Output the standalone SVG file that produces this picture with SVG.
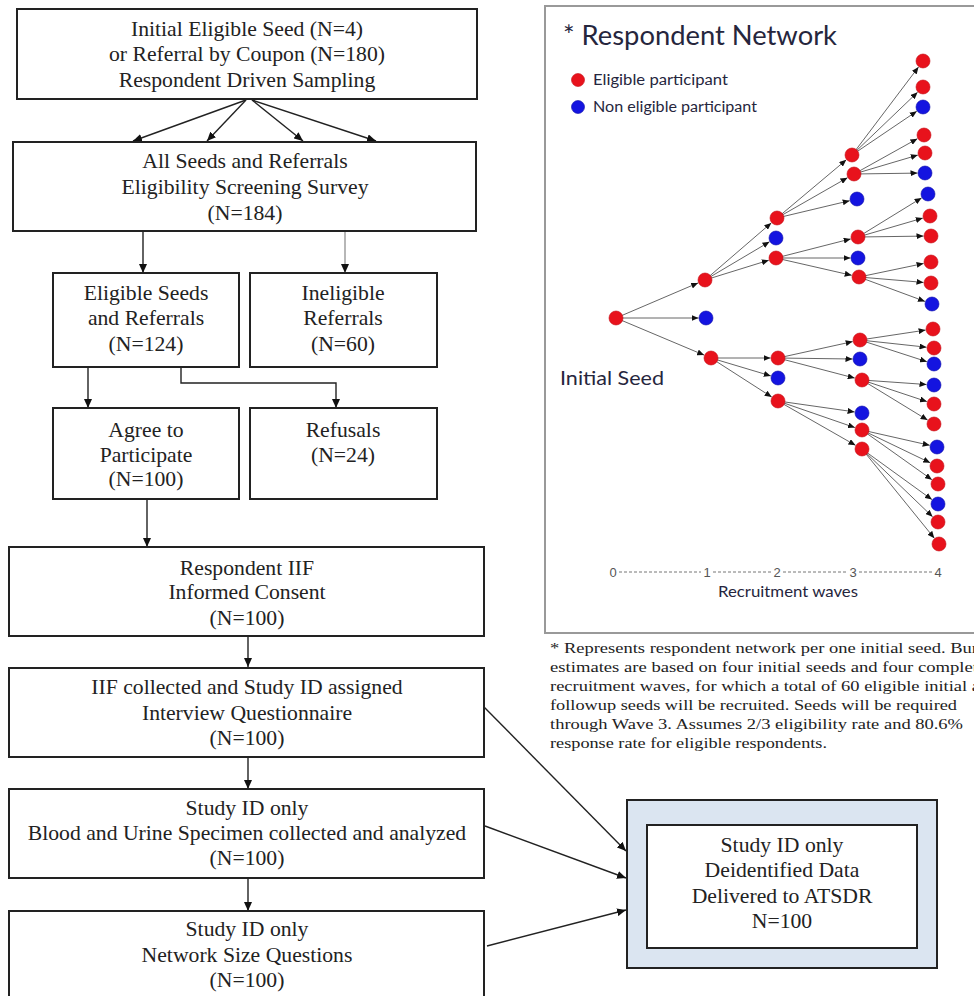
<svg xmlns="http://www.w3.org/2000/svg" width="974" height="996" viewBox="0 0 974 996">
<defs>
<marker id="ah" markerUnits="userSpaceOnUse" markerWidth="10" markerHeight="8" refX="9" refY="4" orient="auto"><path d="M0,0 L9,4 L0,8 z" fill="#111"/></marker>
<marker id="nh" markerUnits="userSpaceOnUse" markerWidth="8" markerHeight="6" refX="7" refY="3" orient="auto"><path d="M0,0 L7,3 L0,6 z" fill="#111"/></marker>
<style>
.box{fill:#fff;stroke:#222;stroke-width:2}
.t{font-family:"Liberation Serif","Times New Roman",serif;font-size:21.7px;fill:#222;text-anchor:middle}
.fn{font-family:"Liberation Serif","Times New Roman",serif;font-size:15px;fill:#222}
.c{fill:none;stroke:#222;stroke-width:1.4}
.e{fill:none;stroke:#555;stroke-width:0.9;marker-end:url(#nh)}
.r{fill:#e8121c;stroke:#c40a12;stroke-width:0.6}
.b{fill:#1414e0;stroke:#0a0aa8;stroke-width:0.6}
.s{font-family:"Lato","Liberation Sans",sans-serif;fill:#26263d}
.ax{font-family:"Liberation Sans",sans-serif;font-size:13px;fill:#555;text-anchor:middle}
</style>
</defs>
<rect width="974" height="996" fill="#fff"/>

<g id="connectors">
<line class="c" x1="246" y1="100" x2="133" y2="141" marker-end="url(#ah)"/>
<line class="c" x1="246" y1="100" x2="207" y2="141" marker-end="url(#ah)"/>
<line class="c" x1="252" y1="100" x2="303" y2="141" marker-end="url(#ah)"/>
<line class="c" x1="252" y1="100" x2="376" y2="141" marker-end="url(#ah)"/>
<line class="c" x1="143" y1="231" x2="143" y2="273" marker-end="url(#ah)"/>
<line class="c" x1="345" y1="231" x2="345" y2="273" style="stroke:#999" marker-end="url(#ah)"/>
<line class="c" x1="88" y1="367" x2="88" y2="408" marker-end="url(#ah)"/>
<polyline class="c" points="181,367 181,383 336,383 336,408" marker-end="url(#ah)"/>
<line class="c" x1="147" y1="499" x2="147" y2="547" marker-end="url(#ah)"/>
<line class="c" x1="248" y1="636" x2="248" y2="667" marker-end="url(#ah)"/>
<line class="c" x1="248" y1="757" x2="248" y2="789" marker-end="url(#ah)"/>
<line class="c" x1="248" y1="878" x2="248" y2="911" marker-end="url(#ah)"/>
<line class="c" x1="484" y1="707" x2="626" y2="851" marker-end="url(#ah)"/>
<line class="c" x1="485" y1="826" x2="626" y2="878" marker-end="url(#ah)"/>
<line class="c" x1="487" y1="946" x2="626" y2="910" marker-end="url(#ah)"/>
</g>

<g id="n1"><rect class="box" x="17" y="9" width="460" height="90"/>
<text class="t" x="247" y="36">Initial Eligible Seed (N=4)</text>
<text class="t" x="247" y="61">or Referral by Coupon (N=180)</text>
<text class="t" x="247" y="87">Respondent Driven Sampling</text></g>

<g id="n2"><rect class="box" x="13" y="142" width="463" height="89"/>
<text class="t" x="245" y="168">All Seeds and Referrals</text>
<text class="t" x="245" y="194">Eligibility Screening Survey</text>
<text class="t" x="245" y="220">(N=184)</text></g>

<g id="n3"><rect class="box" x="53" y="273" width="186" height="94"/>
<text class="t" x="146" y="300">Eligible Seeds</text>
<text class="t" x="146" y="325">and Referrals</text>
<text class="t" x="146" y="351">(N=124)</text></g>

<g id="n4"><rect class="box" x="250" y="273" width="187" height="94"/>
<text class="t" x="343" y="300">Ineligible</text>
<text class="t" x="343" y="325">Referrals</text>
<text class="t" x="343" y="351">(N=60)</text></g>

<g id="n5"><rect class="box" x="53" y="408" width="186" height="91"/>
<text class="t" x="146" y="437">Agree to</text>
<text class="t" x="146" y="462">Participate</text>
<text class="t" x="146" y="486">(N=100)</text></g>

<g id="n6"><rect class="box" x="250" y="408" width="187" height="91"/>
<text class="t" x="343" y="437">Refusals</text>
<text class="t" x="343" y="462">(N=24)</text></g>

<g id="n7"><rect class="box" x="9" y="547" width="475" height="89"/>
<text class="t" x="247" y="575">Respondent IIF</text>
<text class="t" x="247" y="599">Informed Consent</text>
<text class="t" x="247" y="625">(N=100)</text></g>

<g id="n8"><rect class="box" x="9" y="668" width="475" height="89"/>
<text class="t" x="247" y="694">IIF collected and Study ID assigned</text>
<text class="t" x="247" y="720">Interview Questionnaire</text>
<text class="t" x="247" y="745">(N=100)</text></g>

<g id="n9"><rect class="box" x="9" y="789" width="475" height="89"/>
<text class="t" x="247" y="815">Study ID only</text>
<text class="t" x="247" y="840">Blood and Urine Specimen collected and analyzed</text>
<text class="t" x="247" y="865">(N=100)</text></g>

<g id="n10"><rect class="box" x="9" y="911" width="475" height="95"/>
<text class="t" x="247" y="936">Study ID only</text>
<text class="t" x="247" y="962">Network Size Questions</text>
<text class="t" x="247" y="987">(N=100)</text></g>

<g id="n11"><rect x="627" y="800" width="310" height="168" fill="#dbe5f1" stroke="#222" stroke-width="2"/>
<rect class="box" x="647" y="825" width="270" height="123" stroke-width="1.6"/>
<text class="t" x="782" y="852">Study ID only</text>
<text class="t" x="782" y="877">Deidentified Data</text>
<text class="t" x="782" y="903">Delivered to ATSDR</text>
<text class="t" x="782" y="928">N=100</text></g>

<g id="network">
<rect x="545" y="6" width="440" height="627" fill="#fff" stroke="#999" stroke-width="2"/>
<text class="s" x="563" y="45" font-size="26" textLength="274" lengthAdjust="spacingAndGlyphs">* Respondent Network</text>
<circle class="r" cx="578" cy="80" r="6.5"/>
<text class="s" x="593" y="85" font-size="15.5" textLength="135" lengthAdjust="spacingAndGlyphs">Eligible participant</text>
<circle class="b" cx="578" cy="107" r="6.5"/>
<text class="s" x="593" y="112" font-size="15.5" textLength="164" lengthAdjust="spacingAndGlyphs">Non eligible participant</text>
<text class="s" x="560" y="385" font-size="19" textLength="104" lengthAdjust="spacingAndGlyphs">Initial Seed</text>

<g id="net-edges">
<path class="e" d="M616,318 L698.1,282.9"/>
<path class="e" d="M616,318 L698.5,318"/>
<path class="e" d="M616,318 L704.1,355.1"/>
<path class="e" d="M705,280 L771.3,222.9"/>
<path class="e" d="M705,280 L769.5,241.8"/>
<path class="e" d="M705,280 L768.8,260.2"/>
<path class="e" d="M711,358 L770.5,358"/>
<path class="e" d="M711,358 L770.8,375.9"/>
<path class="e" d="M711,358 L771.7,397"/>
<path class="e" d="M777,218 L846.3,159.8"/>
<path class="e" d="M777,218 L847.5,177.7"/>
<path class="e" d="M777,218 L849.7,200.7"/>
<path class="e" d="M776,258 L850.7,238.9"/>
<path class="e" d="M776,258 L850.5,258"/>
<path class="e" d="M776,258 L851.7,275.3"/>
<path class="e" d="M778,358 L852.7,341.6"/>
<path class="e" d="M778,358 L852.5,359"/>
<path class="e" d="M778,358 L854.7,378.1"/>
<path class="e" d="M778,401 L854.6,411.9"/>
<path class="e" d="M778,401 L854.9,427.6"/>
<path class="e" d="M778,401 L855.5,445.3"/>
<path class="e" d="M852,155 L918.5,67"/>
<path class="e" d="M852,155 L917.6,92.2"/>
<path class="e" d="M852,155 L916.8,111.2"/>
<path class="e" d="M854,174 L917.4,138.7"/>
<path class="e" d="M854,174 L917.8,155.1"/>
<path class="e" d="M854,174 L917.5,173.1"/>
<path class="e" d="M858,237 L921.6,197.9"/>
<path class="e" d="M858,237 L922.8,218.1"/>
<path class="e" d="M858,237 L923.5,236.1"/>
<path class="e" d="M859,277 L923.6,263.5"/>
<path class="e" d="M859,277 L923.5,282.4"/>
<path class="e" d="M859,277 L925,301.4"/>
<path class="e" d="M860,340 L925.6,330.1"/>
<path class="e" d="M860,340 L926.5,347.2"/>
<path class="e" d="M860,340 L926.9,361.7"/>
<path class="e" d="M862,380 L926.5,384.5"/>
<path class="e" d="M862,380 L926.9,401.6"/>
<path class="e" d="M862,380 L927.6,420.1"/>
<path class="e" d="M862,430 L929.7,445.3"/>
<path class="e" d="M862,430 L930.2,462.8"/>
<path class="e" d="M862,430 L931.9,479.7"/>
<path class="e" d="M862,449 L931.9,499.6"/>
<path class="e" d="M862,449 L932.6,516.8"/>
<path class="e" d="M862,449 L934.3,538.2"/>
</g>
<g id="net-nodes">
<circle class="r" cx="616" cy="318" r="7"/>
<circle class="r" cx="705" cy="280" r="7"/>
<circle class="b" cx="706" cy="318" r="7"/>
<circle class="r" cx="711" cy="358" r="7"/>
<circle class="r" cx="777" cy="218" r="7"/>
<circle class="b" cx="776" cy="238" r="7"/>
<circle class="r" cx="776" cy="258" r="7"/>
<circle class="r" cx="778" cy="358" r="7"/>
<circle class="b" cx="778" cy="378" r="7"/>
<circle class="r" cx="778" cy="401" r="7"/>
<circle class="r" cx="852" cy="155" r="7"/>
<circle class="r" cx="854" cy="174" r="7"/>
<circle class="b" cx="857" cy="199" r="7"/>
<circle class="r" cx="858" cy="237" r="7"/>
<circle class="b" cx="858" cy="258" r="7"/>
<circle class="r" cx="859" cy="277" r="7"/>
<circle class="r" cx="860" cy="340" r="7"/>
<circle class="b" cx="860" cy="359" r="7"/>
<circle class="r" cx="862" cy="380" r="7"/>
<circle class="b" cx="862" cy="413" r="7"/>
<circle class="r" cx="862" cy="430" r="7"/>
<circle class="r" cx="862" cy="449" r="7"/>
<circle class="r" cx="923" cy="61" r="7"/>
<circle class="r" cx="923" cy="87" r="7"/>
<circle class="b" cx="923" cy="107" r="7"/>
<circle class="r" cx="924" cy="135" r="7"/>
<circle class="r" cx="925" cy="153" r="7"/>
<circle class="b" cx="925" cy="173" r="7"/>
<circle class="b" cx="928" cy="194" r="7"/>
<circle class="r" cx="930" cy="216" r="7"/>
<circle class="r" cx="931" cy="236" r="7"/>
<circle class="r" cx="931" cy="262" r="7"/>
<circle class="r" cx="931" cy="283" r="7"/>
<circle class="b" cx="932" cy="304" r="7"/>
<circle class="r" cx="933" cy="329" r="7"/>
<circle class="r" cx="934" cy="348" r="7"/>
<circle class="b" cx="934" cy="364" r="7"/>
<circle class="b" cx="934" cy="385" r="7"/>
<circle class="r" cx="934" cy="404" r="7"/>
<circle class="r" cx="934" cy="424" r="7"/>
<circle class="b" cx="937" cy="447" r="7"/>
<circle class="r" cx="937" cy="466" r="7"/>
<circle class="r" cx="938" cy="484" r="7"/>
<circle class="b" cx="938" cy="504" r="7"/>
<circle class="r" cx="938" cy="522" r="7"/>
<circle class="r" cx="939" cy="544" r="7"/>
</g>
<g id="axis" stroke="#777" stroke-width="1" stroke-dasharray="3,2">
<line x1="619" y1="572" x2="701" y2="572"/>
<line x1="713" y1="572" x2="771" y2="572"/>
<line x1="783" y1="572" x2="847" y2="572"/>
<line x1="859" y1="572" x2="932" y2="572"/>
</g>
<text class="ax" x="613" y="577">0</text>
<text class="ax" x="707" y="577">1</text>
<text class="ax" x="777" y="577">2</text>
<text class="ax" x="853" y="577">3</text>
<text class="ax" x="938" y="577">4</text>
<text class="s" x="718" y="597" font-size="15" textLength="140" lengthAdjust="spacingAndGlyphs">Recruitment waves</text>
</g>

<g id="footnote">
<text class="fn" x="550" y="653" textLength="428" lengthAdjust="spacingAndGlyphs">* Represents respondent network per one initial seed. Bur</text>
<text class="fn" x="550" y="672" textLength="428" lengthAdjust="spacingAndGlyphs">estimates are based on four initial seeds and four complet</text>
<text class="fn" x="550" y="691" textLength="430" lengthAdjust="spacingAndGlyphs">recruitment waves, for which a total of 60 eligible initial a</text>
<text class="fn" x="550" y="710" textLength="407" lengthAdjust="spacingAndGlyphs">followup seeds will be recruited. Seeds will be required</text>
<text class="fn" x="550" y="729" textLength="413" lengthAdjust="spacingAndGlyphs">through Wave 3. Assumes 2/3 eligibility rate and 80.6%</text>
<text class="fn" x="550" y="748" textLength="277" lengthAdjust="spacingAndGlyphs">response rate for eligible respondents.</text>
</g>
</svg>
